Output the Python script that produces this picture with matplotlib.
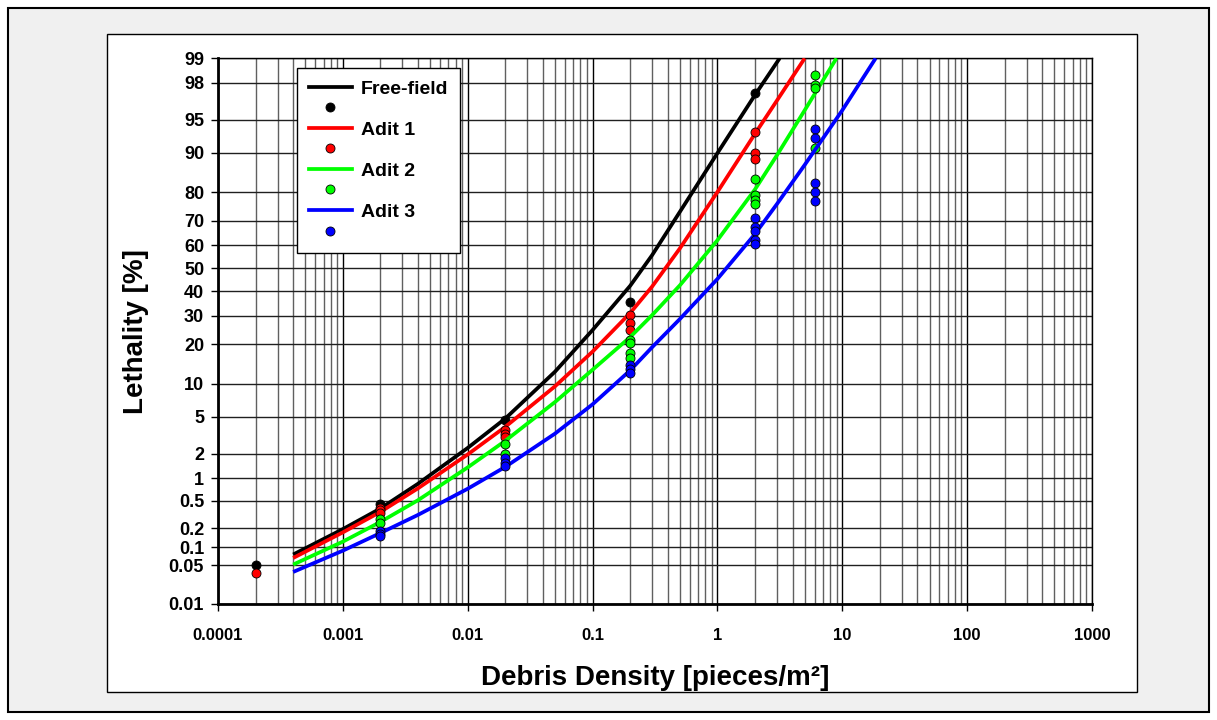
import numpy as np
import matplotlib
matplotlib.use("Agg")
import matplotlib.pyplot as plt
from matplotlib.patches import Rectangle
from matplotlib.lines import Line2D
from matplotlib.ticker import FixedLocator, NullLocator, LogLocator, NullFormatter, FixedFormatter
from statistics import NormalDist

plt.rcParams['font.family'] = ['Liberation Sans', 'DejaVu Sans']
plt.rcParams['font.weight'] = 'bold'

# fitted curves (debris density [pieces/m2], lethality [%])
ff_curve_x = [0.0004, 0.001, 0.002, 0.004, 0.01, 0.02, 0.05, 0.1, 0.2, 0.3, 0.5, 1, 2, 3.15]
ff_curve_y = [0.076, 0.193, 0.39, 0.85, 2.33, 4.8, 12.6, 24.7, 42.3, 55.8, 73.4, 89.9, 97.26, 99.0]
a1_curve_x = [0.0004, 0.001, 0.002, 0.004, 0.01, 0.02, 0.05, 0.1, 0.2, 0.3, 0.5, 1, 2, 3, 5.0]
a1_curve_y = [0.0666, 0.172, 0.348, 0.74, 1.96, 3.95, 9.55, 17.8, 31.0, 42.0, 58.7, 80.1, 93.2, 96.85, 99.0]
a2_curve_x = [0.0004, 0.001, 0.002, 0.004, 0.01, 0.02, 0.05, 0.1, 0.2, 0.3, 0.5, 1, 2, 3, 5, 8.98]
a2_curve_y = [0.0515, 0.123, 0.248, 0.51, 1.37, 2.80, 6.92, 13.05, 22.3, 30.2, 42.5, 62.2, 80.9, 89.5, 96.0, 99.0]
a3_curve_x = [0.0004, 0.001, 0.002, 0.004, 0.01, 0.02, 0.05, 0.1, 0.2, 0.3, 0.5, 1, 2, 3, 5, 10, 18.5]
a3_curve_y = [0.0384, 0.088, 0.168, 0.315, 0.73, 1.39, 3.35, 6.59, 12.9, 19.1, 28.7, 45.3, 64.8, 76.2, 87.4,
              96.0, 99.0]

# measured points
ff_pts_x = [0.0002, 0.002, 0.02, 0.2, 2]
ff_pts_y = [0.0515, 0.458, 4.63, 35.5, 97.4]
a1_pts_x = [0.0002, 0.002, 0.002, 0.002, 0.02, 0.02, 0.02, 0.2, 0.2, 0.2, 2, 2, 2]
a1_pts_y = [0.0369, 0.397, 0.368, 0.34, 3.65, 3.36, 3.09, 30.2, 27.3, 24.7, 93.4, 90.0, 88.6]
a2_pts_x = [0.002, 0.002, 0.02, 0.02, 0.2, 0.2, 0.2, 0.2, 2, 2, 2, 2, 6, 6, 6, 6]
a2_pts_y = [0.27, 0.242, 2.55, 1.96, 21.5, 20.3, 17.3, 16.0, 83.9, 79.2, 77.5, 76.1, 98.4, 97.9, 97.7, 90.9]
a3_pts_x = [0.002, 0.002, 0.002, 0.02, 0.02, 0.02, 0.2, 0.2, 0.2, 2, 2, 2, 2, 2, 6, 6, 6, 6, 6]
a3_pts_y = [0.18, 0.165, 0.149, 1.76, 1.57, 1.43, 14.2, 13.2, 12.3, 71.0, 67.8, 66.1, 62.3, 60.6,
            93.9, 92.5, 82.7, 80.0, 77.3]

labels = ["Free-field", "Adit 1", "Adit 2", "Adit 3"]
colors = ["#000000", "#ff0000", "#00ff00", "#0000ff"]

y_ticks = [0.01, 0.05, 0.1, 0.2, 0.5, 1, 2, 5, 10, 20, 30, 40, 50, 60, 70, 80, 90, 95, 98, 99]
y_ticklabels = ["0.01", "0.05", "0.1", "0.2", "0.5", "1", "2", "5", "10", "20", "30", "40",
                "50", "60", "70", "80", "90", "95", "98", "99"]
x_ticks = [0.0001, 0.001, 0.01, 0.1, 1, 10, 100, 1000]
x_ticklabels = ["0.0001", "0.001", "0.01", "0.1", "1", "10", "100", "1000"]

_nd = NormalDist()
_ppf = np.vectorize(_nd.inv_cdf, otypes=[float])
_cdf = np.vectorize(_nd.cdf, otypes=[float])


def probit(p):
    p = np.clip(np.asarray(p, dtype=float) / 100.0, 1e-9, 1 - 1e-9)
    return _ppf(p)


def inv_probit(z):
    return 100.0 * _cdf(np.asarray(z, dtype=float))


W, H = 1217, 720
fig = plt.figure(figsize=(W / 100, H / 100), dpi=100)
fig.patch.set_facecolor("white")

# outer grey frame and inner white chart area
fig.patches.append(Rectangle((8 / W, 8 / H), (W - 16) / W, (H - 16) / H, transform=fig.transFigure,
                             facecolor="#f0f0f0", edgecolor="black", lw=1.5, zorder=-10))
fig.patches.append(Rectangle((107 / W, 28 / H), (1137 - 107) / W, (692 - 34) / H, transform=fig.transFigure,
                             facecolor="white", edgecolor="black", lw=1.0, zorder=-9))

ax = fig.add_axes([218 / W, (H - 604) / H, (1092 - 218) / W, (604 - 58.3) / H])
ax.set_xscale("log")
ax.set_yscale("function", functions=(probit, inv_probit))
ax.set_xlim(0.0001, 1000)
ax.set_ylim(0.01, 99)

curves = [(ff_curve_x, ff_curve_y, ff_pts_x, ff_pts_y),
          (a1_curve_x, a1_curve_y, a1_pts_x, a1_pts_y),
          (a2_curve_x, a2_curve_y, a2_pts_x, a2_pts_y),
          (a3_curve_x, a3_curve_y, a3_pts_x, a3_pts_y)]

handles = []
z = 3
for (cx, cy, px, py), lab, col in zip(curves, labels, colors):
    ax.plot(cx, cy, color=col, lw=2.7, solid_capstyle="butt", solid_joinstyle="round", zorder=z)
    ax.plot(px, py, "o", ms=6.5, mfc=col, mec="black", mew=0.6, zorder=z + 1)
    z += 2
    handles.append(Line2D([], [], color=col, lw=2.7))
    handles.append(Line2D([], [], ls="none", marker="o", ms=6.5, mfc=col, mec="black", mew=0.6))

leg_labels = []
for lab in labels:
    leg_labels += [lab, " "]

leg = ax.legend(handles, leg_labels, loc="upper left", bbox_to_anchor=((297 - 218) / 874, 1 - (68 - 58.3) / 545.7),
                fontsize=14, frameon=True, fancybox=False, framealpha=1, edgecolor="black",
                handlelength=2.2, handletextpad=0.45, labelspacing=0.15, borderpad=0.62, borderaxespad=0)
leg.get_frame().set_linewidth(1.0)
leg.set_zorder(20)

# grid
ax.xaxis.set_major_locator(FixedLocator(x_ticks))
ax.xaxis.set_major_formatter(FixedFormatter(x_ticklabels))
ax.xaxis.set_minor_locator(LogLocator(base=10, subs=np.arange(2, 10), numticks=50))
ax.xaxis.set_minor_formatter(NullFormatter())
ax.yaxis.set_major_locator(FixedLocator(y_ticks))
ax.yaxis.set_major_formatter(FixedFormatter(y_ticklabels))
ax.yaxis.set_minor_locator(NullLocator())

ax.grid(which="major", axis="x", color="black", lw=1.0)
ax.grid(which="minor", axis="x", color="#606060", lw=1.0)
ax.grid(which="major", axis="y", color="#202020", lw=1.0)
ax.set_axisbelow(True)

ax.tick_params(axis="x", which="major", direction="out", length=5, width=1, labelsize=12, pad=12)
ax.tick_params(axis="x", which="minor", length=0)
ax.tick_params(axis="y", which="major", direction="out", length=5, width=1, labelsize=13, pad=5)
for t in ax.get_xticklabels() + ax.get_yticklabels():
    t.set_fontweight("bold")

for side in ["left", "bottom"]:
    ax.spines[side].set_linewidth(2)
for side in ["top", "right"]:
    ax.spines[side].set_linewidth(1)

ax.set_xlabel("Debris Density [pieces/m²]", fontsize=20, fontweight="bold", labelpad=16)
ax.set_ylabel("Lethality [%]", fontsize=20, fontweight="bold", labelpad=14)

fig.savefig("out.png", dpi=100)
